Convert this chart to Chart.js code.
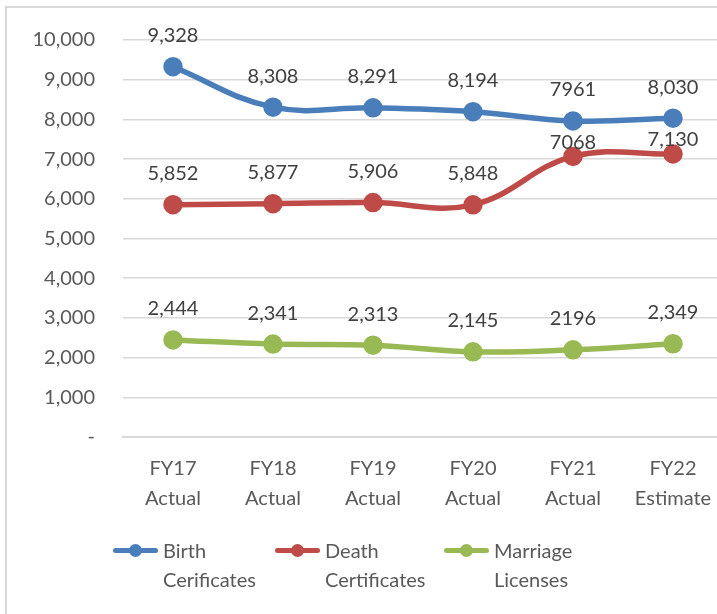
<!DOCTYPE html>
<html>
<head>
<meta charset="utf-8">
<script src="https://cdn.jsdelivr.net/npm/chart.js@4/dist/chart.umd.min.js"></script>
<style>
  html, body { margin: 0; padding: 0; background: #fff; overflow: hidden; }
  #wrap { position: relative; width: 717px; height: 614px; overflow: hidden; }
  #frame { position: absolute; left: 5px; top: 6px; width: 800px; height: 700px;
           border: 2px solid #d9d9d9; box-sizing: border-box; }
  #c { position: absolute; left: 0; top: 0; }
  .legend { position: absolute; top: 536px; left: 0; font-family: Lato, "Open Sans", sans-serif;
            font-size: 20px; color: #595959; line-height: 29px; }
  .item { position: absolute; white-space: nowrap; }
  .sym { position: absolute; top: 12px; width: 45px; height: 5px; border-radius: 3px; }
  .sym::after { content: ""; position: absolute; left: 16px; top: -4px; width: 13px; height: 13px; border-radius: 50%; background: inherit; }
  .txt { position: absolute; left: 50px; top: 0; }
</style>
</head>
<body>
<div id="wrap">
  <div id="frame"></div>
  <canvas id="c" width="740" height="614"></canvas>
  <div class="legend" id="legend"></div>
</div>
<script>
// fiscal years on the x axis
const years = [['FY17', 'Actual'], ['FY18', 'Actual'], ['FY19', 'Actual'], ['FY20', 'Actual'], ['FY21', 'Actual'], ['FY22', 'Estimate']];

const birth = [9328, 8308, 8291, 8194, 7961, 8030];
const death = [5852, 5877, 5906, 5848, 7068, 7130];
const marriage = [2444, 2341, 2313, 2145, 2196, 2349];

// value labels as printed over each point
const birthLabels = ['9,328', '8,308', '8,291', '8,194', '7961', '8,030'];
const deathLabels = ['5,852', '5,877', '5,906', '5,848', '7068', '7,130'];
const marriageLabels = ['2,444', '2,341', '2,313', '2,145', '2196', '2,349'];

const seriesNames = [['Birth', 'Cerificates'], ['Death', 'Certificates'], ['Marriage', 'Licenses']];
const colors = ['#4a7ebb', '#be4b48', '#98b954'];

const FONT = 'Lato, "Open Sans", sans-serif';

// draws the number above each point
const pointLabels = {
  id: 'pointLabels',
  afterDatasetsDraw(chart) {
    const ctx = chart.ctx;
    ctx.save();
    ctx.font = '20px ' + FONT;
    ctx.fillStyle = '#404040';
    ctx.textAlign = 'center';
    ctx.textBaseline = 'middle';
    chart.data.datasets.forEach((ds, i) => {
      const meta = chart.getDatasetMeta(i);
      meta.data.forEach((pt, j) => {
        const lift = (ds.labelLift && ds.labelLift[j]) || 31;
        ctx.fillText(ds.labels[j], pt.x, pt.y - lift);
      });
    });
    ctx.restore();
  }
};

function line(label, data, labels, color, extra) {
  return Object.assign({
    label: label.join(' '),
    data: data,
    labels: labels,
    borderColor: color,
    backgroundColor: color,
    borderWidth: 5.5,
    pointRadius: 7,
    pointHoverRadius: 7,
    tension: 0.4,
    borderCapStyle: 'round'
  }, extra || {});
}

new Chart(document.getElementById('c'), {
  type: 'line',
  data: {
    labels: years,
    datasets: [
      line(seriesNames[0], birth, birthLabels, colors[0]),
      line(seriesNames[1], death, deathLabels, colors[1], { labelLift: [31, 31, 31, 31, 14, 14] }),
      line(seriesNames[2], marriage, marriageLabels, colors[2])
    ]
  },
  options: {
    responsive: false,
    animation: false,
    layout: { autoPadding: false, padding: { top: 36, right: 17, bottom: 77, left: 0 } },
    plugins: { legend: { display: false }, tooltip: { enabled: false } },
    scales: {
      y: {
        min: 0,
        max: 10000,
        ticks: {
          stepSize: 1000,
          padding: 28,
          color: '#595959',
          font: { family: FONT, size: 20 },
          callback: v => v === 0 ? '-' : v.toLocaleString('en-US')
        },
        grid: { color: '#d9d9d9', lineWidth: 1.5, drawTicks: false },
        border: { display: false },
        afterFit(axis) { axis.width = 123; }
      },
      x: {
        offset: true,
        ticks: {
          padding: 17,
          color: '#595959',
          maxRotation: 0,
          font: { family: FONT, size: 20, lineHeight: 1.5 }
        },
        grid: { display: false, drawTicks: false, offset: true },
        border: { color: '#d9d9d9', width: 2 },
        afterFit(axis) { axis.height = 100; }
      }
    }
  },
  plugins: [pointLabels]
});

// legend under the plot
const legendX = [113, 275, 444];
const legend = document.getElementById('legend');
seriesNames.forEach((name, i) => {
  const item = document.createElement('div');
  item.className = 'item';
  item.style.left = legendX[i] + 'px';
  item.innerHTML = '<span class="sym" style="background:' + colors[i] + '"></span>' +
    '<span class="txt">' + name.join('<br>') + '</span>';
  legend.appendChild(item);
});
</script>
</body>
</html>
